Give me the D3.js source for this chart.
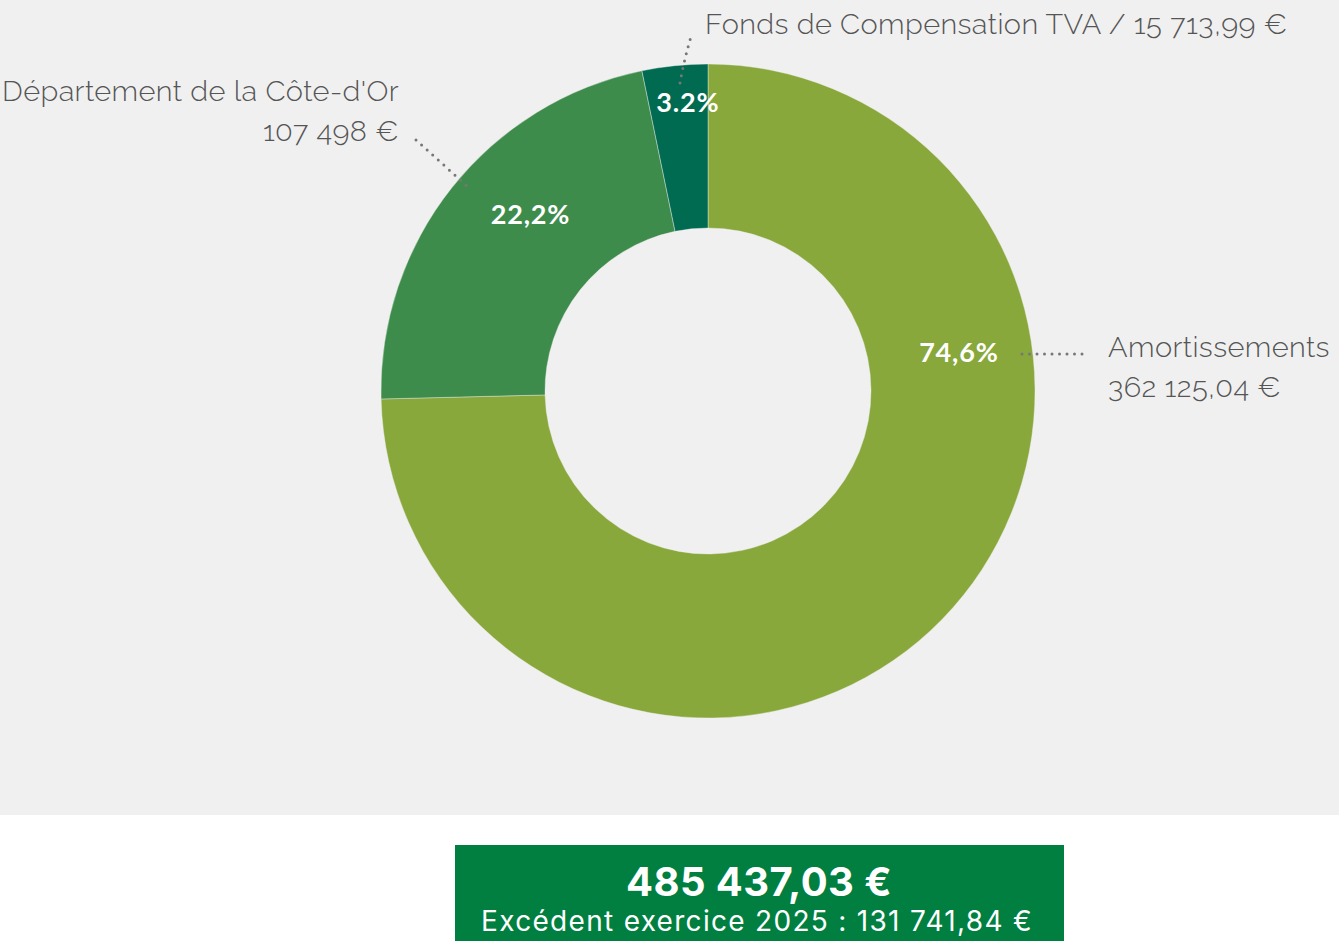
<!DOCTYPE html>
<html>
<head>
<meta charset="utf-8">
<script src="https://cdn.jsdelivr.net/npm/d3@7"></script>
<style>
body{margin:0;background:#fff;}
svg{display:block;}
</style>
</head>
<body>
<svg id="chart" width="1339" height="941"></svg>
<script>
// data
var categories = ["Amortissements", "Département de la Côte-d'Or", "Fonds de Compensation TVA"]
var amounts = [362125.04, 107498, 15713.99]
var amountLabels = ["362 125,04 €", "107 498 €", "15 713,99 €"]
var pctLabels = ["74,6%", "22,2%", "3.2%"]
var totalLabel = "485 437,03 €"
var excedentLabel = "Excédent exercice 2025 : 131 741,84 €"

var colors = ["#89a83c", "#3e8c4b", "#006b51"]

var cx = 708, cy = 391, rOut = 327, rIn = 163

var svg = d3.select("#chart")

svg.append("rect").attr("x",0).attr("y",0).attr("width",1339).attr("height",815).style("fill","#f0f0f0")

var pie = d3.pie().sort(null).value(d=>d)
var arcs = pie(amounts)
var arc = d3.arc().innerRadius(rIn).outerRadius(rOut)

var g = svg.append("g").attr("transform","translate("+cx+","+cy+")")

g.selectAll("path.slice").data(arcs).enter().append("path")
  .attr("class","slice")
  .attr("d",arc)
  .style("fill",(d,i)=>colors[i])
  .style("stroke","#f0f0f0")
  .style("stroke-width",0.4)

// percent labels: angle (deg, clockwise from top) and radius
var pctPos = [[81, 254], [315, 251], [356, 290]]
function polar(a, r){
	var t = a*Math.PI/180
	return [r*Math.sin(t), -r*Math.cos(t)]
}
g.selectAll("text.pct").data(arcs).enter().append("text")
  .attr("class","pct")
  .attr("x",(d,i)=>polar(pctPos[i][0],pctPos[i][1])[0])
  .attr("y",(d,i)=>polar(pctPos[i][0],pctPos[i][1])[1])
  .attr("text-anchor","middle")
  .attr("dominant-baseline","central")
  .style("font-family","Lato, 'Open Sans', sans-serif")
  .style("font-weight","bold")
  .style("font-size","27px")
  .style("letter-spacing","0.8px")
  .style("fill","#fff")
  .text((d,i)=>pctLabels[i])

// leader lines
var dots = {stroke:"#777", "stroke-width":3, "stroke-linecap":"round", "stroke-dasharray":"0,7.5", fill:"none"}
function leader(d){
	var p = svg.append("path").attr("d",d)
	for (var k in dots) p.style(k,dots[k])
}
leader("M1022,354L1085,354")
leader("M416,140L467,186")
leader("M680,83Q684,60 692,33")

var labelFont = "Raleway, Lato, 'Open Sans', sans-serif"
function label(x,y,anchor,t){
	svg.append("text").attr("x",x).attr("y",y).attr("text-anchor",anchor)
	  .style("font-family",labelFont).style("font-size","29px").style("font-weight","300")
	  .style("letter-spacing","0.4px")
	  .style("fill","#555").text(t)
}
label(1108,357,"start",categories[0])
label(1108,397,"start",amountLabels[0])
label(399,101,"end",categories[1])
label(399,141,"end",amountLabels[1])
label(705,34,"start",categories[2]+" / "+amountLabels[2])

// total box
svg.append("rect").attr("x",455).attr("y",845).attr("width",609).attr("height",96).style("fill","#007f40")
svg.append("text").attr("x",759).attr("y",896).attr("text-anchor","middle")
  .style("font-family","Inter, Lato, sans-serif").style("font-weight","bold").style("font-size","40px")
  .style("letter-spacing","0.4px")
  .style("fill","#fff").text(totalLabel)
svg.append("text").attr("x",757).attr("y",931).attr("text-anchor","middle")
  .style("font-family","Inter, Lato, sans-serif").style("font-size","28px")
  .style("letter-spacing","1.3px")
  .style("fill","#fff").text(excedentLabel)
</script>
</body>
</html>
